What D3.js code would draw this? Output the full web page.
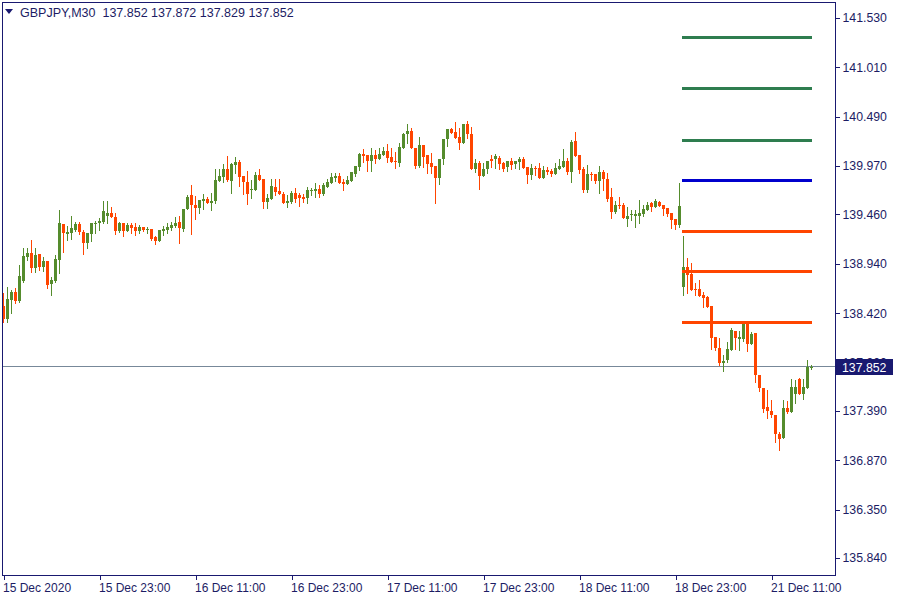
<!DOCTYPE html>
<html><head><meta charset="utf-8">
<script src="https://cdn.jsdelivr.net/npm/d3@7"></script>
<style>html,body{margin:0;padding:0;background:#fff;}svg{display:block;font-family:"Liberation Sans",Arial,sans-serif;}</style>
</head><body><svg id="c" width="900" height="600"></svg>
<script>
const symbol = "GBPJPY,M30";
const lastOHLC = ["137.852","137.872","137.829","137.852"];
const openP = [138.495,138.358,138.559,138.643,138.548,138.759,139.012,139.054,138.896,139.043,138.906,138.970,138.727,138.759,138.980,139.360,139.254,139.265,139.296,139.360,139.275,139.159,139.254,139.360,139.370,139.381,139.444,139.475,139.433,139.286,139.370,139.286,139.349,139.328,139.286,139.328,139.302,139.307,139.223,139.180,139.286,139.296,139.317,139.339,139.381,139.307,139.518,139.665,139.560,139.528,139.602,139.623,139.581,139.602,139.813,139.855,139.939,139.813,139.981,140.013,139.865,139.802,139.718,139.718,139.876,139.834,139.591,139.623,139.749,139.707,139.676,139.581,139.591,139.686,139.665,139.644,139.633,139.707,139.707,139.728,139.676,139.749,139.792,139.844,139.865,139.802,139.781,139.813,139.886,139.960,140.097,140.086,140.023,140.086,140.044,140.086,140.128,140.065,140.023,140.002,140.160,140.308,140.339,140.160,139.970,140.192,140.086,140.002,139.970,139.844,140.044,140.255,140.360,140.329,140.276,140.213,140.413,140.308,139.939,140.002,139.865,139.939,140.044,140.044,140.055,140.002,139.960,140.023,139.992,140.013,140.044,139.960,139.876,139.950,139.950,139.844,139.928,139.918,139.886,139.939,139.960,140.023,139.907,140.234,140.086,139.939,139.718,139.886,139.886,139.813,139.907,139.834,139.644,139.486,139.560,139.560,139.412,139.454,139.444,139.444,139.465,139.507,139.581,139.539,139.591,139.560,139.528,139.475,139.412,139.349,138.696,138.906,138.833,138.675,138.675,138.611,138.590,138.495,138.169,138.053,137.895,137.926,138.032,138.232,138.148,138.148,138.306,138.095,138.211,137.768,137.631,137.431,137.389,137.347,137.146,137.104,137.420,137.378,137.568,137.726,137.568,137.631,137.852];
const highP = [138.632,138.696,138.664,138.685,138.927,139.106,139.106,139.191,139.106,139.043,139.012,138.970,138.801,139.033,139.507,139.360,139.339,139.444,139.381,139.381,139.296,139.265,139.370,139.391,139.423,139.602,139.602,139.539,139.475,139.381,139.370,139.370,139.370,139.370,139.349,139.328,139.328,139.307,139.233,139.296,139.339,139.370,139.381,139.433,139.444,139.381,139.665,139.770,139.654,139.612,139.676,139.644,139.686,139.939,139.939,139.992,140.076,140.002,140.065,140.034,139.865,139.918,139.823,139.907,139.939,139.834,139.676,139.834,139.834,139.834,139.697,139.665,139.707,139.739,139.686,139.676,139.749,139.739,139.792,139.770,139.792,139.834,139.897,139.897,139.897,139.834,139.865,139.907,139.970,140.107,140.149,140.086,140.160,140.139,140.160,140.171,140.202,140.160,140.118,140.213,140.318,140.413,140.371,140.160,140.276,140.192,140.086,140.107,139.970,140.044,140.255,140.360,140.371,140.434,140.371,140.413,140.445,140.381,140.044,140.023,140.002,140.023,140.086,140.097,140.076,140.013,140.023,140.055,140.023,140.065,140.065,139.960,139.992,139.970,140.002,139.970,139.960,139.939,140.002,140.044,140.149,140.055,140.245,140.329,140.086,139.960,139.981,139.907,139.886,139.970,139.928,139.897,139.739,139.602,139.644,139.581,139.539,139.507,139.507,139.612,139.560,139.591,139.591,139.623,139.602,139.560,139.528,139.475,139.412,139.792,139.233,139.001,138.949,138.738,138.769,138.643,138.601,138.495,138.169,138.158,137.979,138.116,138.264,138.232,138.232,138.306,138.306,138.221,138.211,137.768,137.631,137.610,137.505,137.347,137.168,137.505,137.494,137.726,137.716,137.737,137.726,137.926,137.872];
const lowP = [138.327,138.327,138.422,138.527,138.537,138.748,138.980,138.854,138.854,138.875,138.864,138.685,138.611,138.748,138.843,139.064,139.191,139.201,139.286,139.254,139.043,139.106,139.180,139.265,139.296,139.370,139.370,139.433,139.254,139.275,139.233,139.286,139.265,139.244,139.265,139.286,139.265,139.191,139.149,139.180,139.244,139.265,139.296,139.328,139.159,139.286,139.518,139.254,139.412,139.475,139.518,139.581,139.507,139.581,139.813,139.802,139.813,139.686,139.897,139.760,139.676,139.570,139.633,139.718,139.823,139.528,139.528,139.623,139.665,139.676,139.581,139.539,139.581,139.591,139.549,139.591,139.581,139.665,139.644,139.644,139.665,139.749,139.792,139.813,139.792,139.718,139.781,139.813,139.865,139.928,140.013,139.918,139.918,140.002,140.044,140.086,140.013,140.013,139.950,139.970,140.160,140.213,140.160,139.950,139.960,139.960,139.897,139.897,139.581,139.781,139.992,140.182,140.318,140.266,140.149,140.213,140.266,139.939,139.907,139.728,139.865,139.897,139.960,139.950,139.939,139.918,139.918,139.939,139.950,139.939,139.950,139.792,139.834,139.876,139.844,139.844,139.886,139.865,139.886,139.939,139.960,139.886,139.802,140.076,139.897,139.697,139.697,139.823,139.792,139.686,139.718,139.602,139.423,139.475,139.528,139.423,139.339,139.402,139.328,139.370,139.444,139.507,139.496,139.539,139.549,139.454,139.444,139.317,139.307,139.328,138.611,138.632,138.664,138.611,138.601,138.485,138.485,138.042,138.032,137.874,137.810,137.905,138.032,138.042,138.032,138.127,138.021,138.095,137.695,137.600,137.378,137.315,137.326,137.062,136.978,137.104,137.368,137.378,137.473,137.568,137.515,137.631,137.829];
const closeP = [138.358,138.569,138.643,138.548,138.812,139.022,139.054,138.896,139.033,138.906,138.970,138.717,138.769,138.991,139.370,139.265,139.275,139.317,139.360,139.275,139.159,139.265,139.370,139.370,139.391,139.496,139.475,139.433,139.286,139.370,139.286,139.349,139.317,139.286,139.328,139.296,139.307,139.201,139.180,139.296,139.307,139.328,139.349,139.370,139.317,139.518,139.644,139.560,139.528,139.612,139.623,139.581,139.602,139.823,139.865,139.939,139.823,139.992,140.013,139.855,139.802,139.676,139.728,139.876,139.823,139.591,139.633,139.760,139.697,139.676,139.581,139.602,139.686,139.623,139.633,139.623,139.718,139.718,139.728,139.676,139.770,139.802,139.855,139.865,139.792,139.781,139.823,139.907,139.970,140.097,140.076,140.023,140.086,140.044,140.097,140.128,140.055,140.013,140.013,140.171,140.308,140.339,140.160,139.970,140.192,140.065,139.992,139.960,139.844,140.044,140.255,140.360,140.318,140.266,140.213,140.413,140.308,139.939,140.002,139.865,139.939,140.023,140.023,140.076,139.992,139.939,140.023,139.981,140.023,140.044,139.950,139.876,139.950,139.939,139.844,139.928,139.907,139.886,139.950,139.970,140.023,139.907,140.224,140.076,139.928,139.718,139.886,139.881,139.813,139.907,139.834,139.623,139.486,139.560,139.549,139.423,139.444,139.465,139.465,139.475,139.518,139.560,139.539,139.602,139.549,139.518,139.465,139.402,139.349,139.549,138.906,138.822,138.664,138.664,138.601,138.580,138.485,138.158,138.053,137.895,137.916,138.042,138.243,138.158,138.169,138.306,138.095,138.201,137.768,137.631,137.410,137.389,137.347,137.146,137.094,137.420,137.378,137.642,137.642,137.568,137.642,137.852,137.852];
const yTickLabels = ["141.530","141.010","140.490","139.970","139.460","138.940","138.420","137.900","137.390","136.870","136.350","135.840"];
const xTickBars = [0,24,48,72,96,120,144,168,192];
const xTickLabels = ["15 Dec 2020","15 Dec 23:00","16 Dec 11:00","16 Dec 23:00","17 Dec 11:00","17 Dec 23:00","18 Dec 11:00","18 Dec 23:00","21 Dec 11:00"];
const levelPrices = [141.330,140.792,140.245,139.823,139.286,138.864,138.327];
const levelKinds = ["up","up","up","pivot","down","down","down"];
const levelFromBar = 170, levelToBar = 202;
const bidPrice = 137.852;

const C = {bull:"#558c2d", bear:"#ff4500", axis:"#191970", text:"#1c1c64", grid:"#778899",
  level:{up:"#2e7d4f", pivot:"#0000cd", down:"#ff4500"}};
const svg = d3.select("#c");
const L=2, R=836, T=2, B=576;
const n = openP.length;
const x = d3.scaleLinear().domain([0, n-1]).range([3, 3 + 4*(n-1)]);
const y = d3.scaleLinear().domain([135.84, 141.53]).range([558, 18]);
const data = d3.range(n).map(i=>({i,o:openP[i],h:highP[i],l:lowP[i],c:closeP[i]}));

svg.append("rect").attr("x",0).attr("y",0).attr("width",900).attr("height",600).attr("fill","#fff");
svg.append("clipPath").attr("id","pc").append("rect").attr("x",L+0.5).attr("y",T+0.5).attr("width",R-L-1).attr("height",B-T-1);
const plot = svg.append("g").attr("clip-path","url(#pc)").attr("shape-rendering","crispEdges");

// price line
plot.append("line").attr("x1",L).attr("x2",R).attr("y1",Math.round(y(bidPrice))-0.5).attr("y2",Math.round(y(bidPrice))-0.5)
  .attr("stroke",C.grid).attr("stroke-width",1);

// candles
const g = plot.selectAll("g.cd").data(data).join("g").attr("class","cd");
g.append("rect").attr("x",d=>Math.round(x(d.i))).attr("width",1)
  .attr("y",d=>Math.round(y(d.h))).attr("height",d=>Math.max(1,Math.round(y(d.l))-Math.round(y(d.h))+1))
  .attr("fill",d=>d.c>=d.o?C.bull:C.bear);
g.append("rect").attr("x",d=>Math.round(x(d.i))-1).attr("width",3)
  .attr("y",d=>Math.round(y(Math.max(d.o,d.c))))
  .attr("height",d=>Math.max(1,Math.round(y(Math.min(d.o,d.c)))-Math.round(y(Math.max(d.o,d.c)))))
  .attr("fill",d=>d.c>=d.o?C.bull:C.bear);

// levels
plot.selectAll("rect.lv").data(levelPrices).join("rect").attr("class","lv")
  .attr("x",x(levelFromBar)-1).attr("width",x(levelToBar)-x(levelFromBar)+2)
  .attr("y",d=>Math.round(y(d))-1).attr("height",3)
  .attr("fill",(d,i)=>C.level[levelKinds[i]]);

// frame
svg.append("rect").attr("x",L+0.5).attr("y",T+0.5).attr("width",R-L-1).attr("height",B-T-1)
  .attr("fill","none").attr("stroke",C.axis).attr("stroke-width",1).attr("shape-rendering","crispEdges");

// y axis
const yAxis = d3.axisRight(y).tickValues(yTickLabels.map(Number)).tickFormat((d,i)=>yTickLabels[i]).tickSize(4).tickPadding(3);
const ya = svg.append("g").attr("transform",`translate(${R-0.5},0)`).call(yAxis);
ya.select(".domain").remove();
ya.selectAll("line").attr("stroke",C.axis).attr("shape-rendering","crispEdges");
ya.selectAll("text").attr("fill",C.text).attr("font-size",12.3).attr("font-family","Liberation Sans, Arial, sans-serif");

// x axis
const xAxis = d3.axisBottom(x).tickValues(xTickBars).tickFormat((d,i)=>xTickLabels[i]).tickSize(4).tickPadding(4);
const xa = svg.append("g").attr("transform",`translate(0.5,${B-0.5})`).call(xAxis);
xa.select(".domain").remove();
xa.selectAll("line").attr("stroke",C.axis).attr("shape-rendering","crispEdges");
xa.selectAll("text").attr("text-anchor","start").attr("x",-1).attr("fill",C.text).attr("font-size",12).attr("font-family","Liberation Sans, Arial, sans-serif");

// bid label
const by = Math.round(y(bidPrice));
svg.append("rect").attr("x",R).attr("y",by-8).attr("width",57).attr("height",16).attr("fill","#191970");
svg.append("text").attr("x",R+6).attr("y",by+4.5).attr("fill","#fff").attr("font-size",12.3).text(d3.format(".3f")(bidPrice));

// title
svg.append("path").attr("d","M5,9 L13,9 L9,14 Z").attr("fill",C.axis);
svg.append("text").attr("x",20).attr("y",17).attr("fill",C.text).attr("font-size",12.5).attr("xml:space","preserve")
  .style("white-space","pre").text(symbol + "  " + lastOHLC.join(" "));
</script></body></html>
